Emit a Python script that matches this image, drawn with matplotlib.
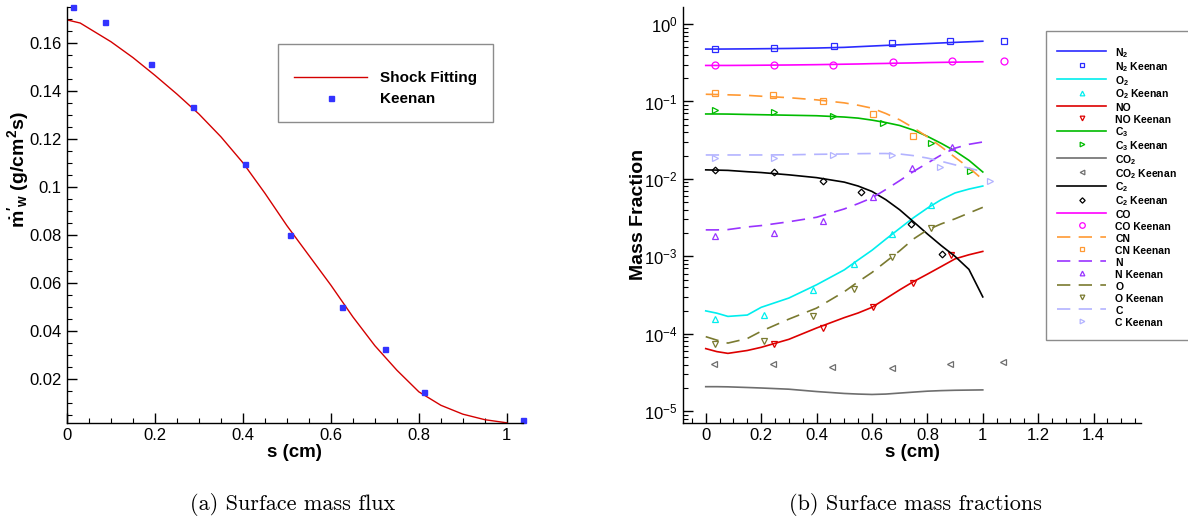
import matplotlib
matplotlib.use("Agg")
import matplotlib.pyplot as plt
from matplotlib.lines import Line2D
from matplotlib.ticker import MultipleLocator, FuncFormatter, LogLocator, NullFormatter

plt.rcParams['font.family'] = ['Liberation Sans', 'DejaVu Sans']
plt.rcParams['mathtext.fontset'] = 'custom'
plt.rcParams['mathtext.rm'] = 'Liberation Sans'
plt.rcParams['mathtext.it'] = 'Liberation Sans:italic'
plt.rcParams['mathtext.bf'] = 'Liberation Sans:bold'
plt.rcParams['axes.unicode_minus'] = False

# ---------------- data: (a) surface mass flux ----------------
s_fit = [0.0, 0.03, 0.1, 0.15, 0.2, 0.25, 0.3, 0.35, 0.4, 0.45, 0.5, 0.55, 0.6, 0.65,
         0.7, 0.75, 0.8, 0.85, 0.9, 0.95, 1.0]
mdot_fit = [0.1697, 0.1684, 0.1606, 0.1540, 0.1466, 0.1388, 0.1305, 0.1210, 0.1102,
            0.0975, 0.0840, 0.0716, 0.0592, 0.0460, 0.0340, 0.0238, 0.0148, 0.0092,
            0.0055, 0.0032, 0.0019]
s_keenan = [0.014, 0.087, 0.191, 0.286, 0.405, 0.508, 0.626, 0.722, 0.811, 1.037]
mdot_keenan = [0.1750, 0.1690, 0.1514, 0.1335, 0.1098, 0.0800, 0.0502, 0.0325, 0.0146, 0.0030]

# ---------------- data: (b) surface mass fractions ----------------
s_cfd = [0.0, 0.04, 0.08, 0.15, 0.2, 0.3, 0.4, 0.5, 0.55, 0.6, 0.65, 0.7, 0.75, 0.8,
         0.85, 0.9, 0.95, 1.0]
y_N2 = [0.475, 0.475, 0.476, 0.478, 0.48, 0.484, 0.49, 0.50, 0.51, 0.52, 0.53, 0.54,
        0.55, 0.56, 0.57, 0.58, 0.59, 0.60]
y_O2 = [1.98e-4, 1.85e-4, 1.68e-4, 1.75e-4, 2.2e-4, 2.9e-4, 4.3e-4, 6.7e-4, 9.0e-4,
        1.2e-3, 1.67e-3, 2.3e-3, 3.16e-3, 4.2e-3, 5.4e-3, 6.6e-3, 7.4e-3, 8.1e-3]
y_NO = [6.45e-5, 5.9e-5, 5.6e-5, 6.1e-5, 6.7e-5, 8.5e-5, 1.19e-4, 1.62e-4, 1.86e-4,
        2.2e-4, 2.85e-4, 3.7e-4, 4.73e-4, 5.9e-4, 7.4e-4, 9.3e-4, 1.05e-3, 1.16e-3]
y_C3 = [0.069, 0.069, 0.0688, 0.068, 0.0675, 0.0665, 0.0655, 0.063, 0.061, 0.0575,
        0.0535, 0.049, 0.0427, 0.0355, 0.0288, 0.0229, 0.0174, 0.0123]
y_CO2 = [2.08e-5, 2.08e-5, 2.07e-5, 2.03e-5, 2.0e-5, 1.93e-5, 1.8e-5, 1.7e-5, 1.67e-5,
         1.65e-5, 1.67e-5, 1.72e-5, 1.77e-5, 1.82e-5, 1.85e-5, 1.87e-5, 1.88e-5, 1.89e-5]
y_C2 = [0.0131, 0.013, 0.0129, 0.0124, 0.0121, 0.0113, 0.0104, 0.0091, 0.0081, 0.0069,
        0.0054, 0.0040, 0.0028, 0.00195, 0.00138, 0.001, 0.00068, 0.0003]
y_CO = [0.292, 0.292, 0.292, 0.293, 0.294, 0.296, 0.299, 0.303, 0.305, 0.308, 0.31,
        0.313, 0.315, 0.318, 0.32, 0.322, 0.324, 0.326]
y_CN = [0.124, 0.123, 0.122, 0.12, 0.117, 0.112, 0.105, 0.096, 0.0895, 0.082, 0.070,
        0.058, 0.0457, 0.035, 0.026, 0.019, 0.014, 0.0098]
y_N = [0.0022, 0.0022, 0.00222, 0.0024, 0.0025, 0.0028, 0.0032, 0.0041, 0.0048, 0.0057,
       0.0073, 0.0095, 0.0125, 0.016, 0.0204, 0.025, 0.028, 0.030]
y_O = [9.2e-5, 8.3e-5, 7.6e-5, 8.7e-5, 1.08e-4, 1.55e-4, 2.15e-4, 3.5e-4, 4.7e-4,
       6.2e-4, 8.55e-4, 1.18e-3, 1.68e-3, 2.2e-3, 2.63e-3, 3.06e-3, 3.63e-3, 4.3e-3]
y_C = [0.0204, 0.0204, 0.0204, 0.0204, 0.0204, 0.0205, 0.0208, 0.021, 0.0212, 0.0213,
       0.0213, 0.021, 0.0200, 0.0186, 0.0169, 0.0152, 0.0138, 0.0124]

k_N2_s = [0.035, 0.247, 0.464, 0.674, 0.882, 1.077]
k_N2 = [0.475, 0.485, 0.515, 0.563, 0.61, 0.61]
k_O2_s = [0.035, 0.211, 0.386, 0.536, 0.674, 0.813]
k_O2 = [1.56e-4, 1.74e-4, 3.63e-4, 7.96e-4, 1.93e-3, 4.57e-3]
k_NO_s = [0.248, 0.425, 0.603, 0.747, 0.884]
k_NO = [7.5e-5, 1.18e-4, 2.25e-4, 4.5e-4, 1.03e-3]
k_C3_s = [0.035, 0.247, 0.461, 0.641, 0.813, 0.954]
k_C3 = [0.0769, 0.0725, 0.065, 0.0533, 0.0294, 0.0125]
k_CO2_s = [0.031, 0.242, 0.457, 0.673, 0.88, 1.072]
k_CO2 = [4.1e-5, 4.1e-5, 3.78e-5, 3.67e-5, 4.1e-5, 4.3e-5]
k_C2_s = [0.035, 0.247, 0.425, 0.561, 0.741, 0.851]
k_C2 = [0.0131, 0.0122, 0.0095, 0.00687, 0.00263, 0.00109]
k_CO_s = [0.035, 0.247, 0.461, 0.677, 0.889, 1.077]
k_CO = [0.292, 0.292, 0.30, 0.32, 0.33, 0.33]
k_CN_s = [0.035, 0.244, 0.425, 0.603, 0.747]
k_CN = [0.13, 0.122, 0.102, 0.069, 0.0359]
k_N_s = [0.035, 0.247, 0.422, 0.605, 0.745, 0.888]
k_N = [0.00184, 0.0020, 0.0029, 0.0059, 0.0139, 0.0261]
k_O_s = [0.035, 0.211, 0.386, 0.536, 0.674, 0.813]
k_O = [7.3e-5, 8.1e-5, 1.71e-4, 3.85e-4, 9.8e-4, 2.35e-3]
k_C_s = [0.035, 0.247, 0.461, 0.674, 0.846, 1.026]
k_C = [0.0187, 0.0187, 0.0202, 0.0202, 0.0144, 0.0094]

species_names = ["N$_\\mathbf{2}$", "O$_\\mathbf{2}$", "NO", "C$_\\mathbf{3}$",
                 "CO$_\\mathbf{2}$", "C$_\\mathbf{2}$", "CO", "CN", "N", "O", "C"]

# ---------------- figure ----------------
W, H = 1188, 525
fig = plt.figure(figsize=(W / 100, H / 100), dpi=100)

def style_axes(ax):
    for side in ("top", "right"):
        ax.spines[side].set_visible(False)
    for side in ("left", "bottom"):
        ax.spines[side].set_linewidth(1.0)
    ax.tick_params(which="both", direction="in", top=False, right=False)
    ax.tick_params(which="major", length=7, width=1.0, labelsize=12)
    ax.tick_params(which="minor", length=3.5, width=0.8)
    ax.tick_params(axis="x", pad=4)
    ax.tick_params(axis="y", pad=4)

fmt = FuncFormatter(lambda v, p: "%g" % round(v, 6))

# ---- (a)
ax1 = fig.add_axes([67 / W, 1 - 422.7 / H, (522.7 - 67) / W, (422.7 - 6.7) / H])
style_axes(ax1)
ax1.plot(s_fit, mdot_fit, color="#d40000", lw=1.0)
ax1.plot(s_keenan, mdot_keenan, ls="none", marker="s", ms=3.6, mfc="#3333ff",
         mec="#3333ff", clip_on=False)
ax1.set_xlim(0, 1.036)
ax1.set_ylim(0.00195, 0.1752)
ax1.xaxis.set_major_locator(MultipleLocator(0.2))
ax1.xaxis.set_minor_locator(MultipleLocator(0.05))
ax1.yaxis.set_major_locator(MultipleLocator(0.02))
ax1.yaxis.set_minor_locator(MultipleLocator(0.005))
ax1.xaxis.set_major_formatter(fmt)
ax1.yaxis.set_major_formatter(fmt)
ax1.set_xlabel("s (cm)", fontsize=13.5, fontweight="bold")
ax1.xaxis.set_label_coords(0.5, -0.052)
ax1.set_ylabel(r"$\mathbf{\dot{m}'_w}$ (g/cm$^\mathbf{2}$s)", fontsize=14, fontweight="bold")
ax1.yaxis.set_label_coords(-0.078, 0.607)

h1 = [Line2D([], [], color="#d40000", lw=1.0),
      Line2D([], [], ls="none", marker="s", ms=3.6, mfc="#3333ff", mec="#3333ff")]
leg1 = ax1.legend(h1, ["Shock Fitting", "Keenan"], loc="upper left",
                  bbox_to_anchor=(278 / W, 1 - 44 / H), bbox_transform=fig.transFigure,
                  prop={"weight": "bold", "size": 11}, handlelength=4.8,
                  handletextpad=0.85, labelspacing=0.42, borderpad=1.05,
                  borderaxespad=0, fancybox=False, framealpha=1,
                  title=" ", title_fontsize=4)
leg1.get_frame().set_edgecolor("#8c8c8c")
leg1.get_frame().set_linewidth(1.0)

# ---- (b)
ax2 = fig.add_axes([683.3 / W, 1 - 422.7 / H, (1140.7 - 683.3) / W, (422.7 - 7) / H])
style_axes(ax2)
ax2.set_yscale("log")
ax2.set_xlim(-0.081, 1.57)
ax2.set_ylim(10 ** -5.147, 10 ** 0.22)
ax2.xaxis.set_major_locator(MultipleLocator(0.2))
ax2.xaxis.set_minor_locator(MultipleLocator(0.05))
ax2.xaxis.set_major_formatter(fmt)
ax2.yaxis.set_major_locator(LogLocator(base=10, numticks=12))
ax2.yaxis.set_minor_locator(LogLocator(base=10, subs=[2, 3, 4, 5, 6, 7, 8, 9], numticks=12))
ax2.yaxis.set_minor_formatter(NullFormatter())
ax2.set_xlabel("s (cm)", fontsize=13.5, fontweight="bold")
ax2.xaxis.set_label_coords(0.5, -0.052)
ax2.set_ylabel("Mass Fraction", fontsize=14, fontweight="bold")
ax2.yaxis.set_label_coords(-0.079, 0.5)

dash = (0, (8, 5))
series = [
    (y_N2, k_N2_s, k_N2, "#2b2bff", "-", "s", 4.0),
    (y_O2, k_O2_s, k_O2, "#00eeee", "-", "^", 4.2),
    (y_NO, k_NO_s, k_NO, "#dd0000", "-", "v", 4.2),
    (y_C3, k_C3_s, k_C3, "#00bb00", "-", ">", 4.2),
    (y_CO2, k_CO2_s, k_CO2, "#6e6e6e", "-", "<", 4.2),
    (y_C2, k_C2_s, k_C2, "#000000", "-", "D", 3.4),
    (y_CO, k_CO_s, k_CO, "#ff00ff", "-", "o", 5.0),
    (y_CN, k_CN_s, k_CN, "#ff9933", dash, "s", 4.0),
    (y_N, k_N_s, k_N, "#9933ff", dash, "^", 4.2),
    (y_O, k_O_s, k_O, "#7a7a30", dash, "v", 4.2),
    (y_C, k_C_s, k_C, "#b3b3ff", dash, ">", 4.2),
]
handles, labels = [], []
for name, (yl, ks, kv, col, ls, mk, ms) in zip(species_names, series):
    ax2.plot(s_cfd, yl, color=col, ls=ls, lw=1.2)
    ax2.plot(ks, kv, ls="none", marker=mk, ms=ms, mfc="none", mec=col, mew=0.9)
    handles.append(Line2D([], [], color=col, ls=ls, lw=1.2))
    labels.append(name)
    handles.append(Line2D([], [], ls="none", marker=mk, ms=ms * 0.8, mfc="none",
                          mec=col, mew=0.9))
    labels.append(name + " Keenan")

leg2 = ax2.legend(handles, labels, loc="upper left",
                  bbox_to_anchor=(1046 / W, 1 - 30.7 / H), bbox_transform=fig.transFigure,
                  prop={"weight": "bold", "size": 7.5}, handlelength=4.7,
                  handleheight=1.4, handletextpad=0.85, labelspacing=0.0,
                  borderpad=1.1, borderaxespad=0, fancybox=False, framealpha=1,
                  title=" ", title_fontsize=3)
leg2.get_frame().set_edgecolor("#8c8c8c")
leg2.get_frame().set_linewidth(1.0)

# captions
fig.text(293 / W, 1 - 505 / H, "(a) Surface mass flux", ha="center", va="center",
         family="cmr10", fontsize=16)
fig.text(915 / W, 1 - 505 / H, "(b) Surface mass fractions", ha="center", va="center",
         family="cmr10", fontsize=16)

fig.savefig("out.png", dpi=100)
